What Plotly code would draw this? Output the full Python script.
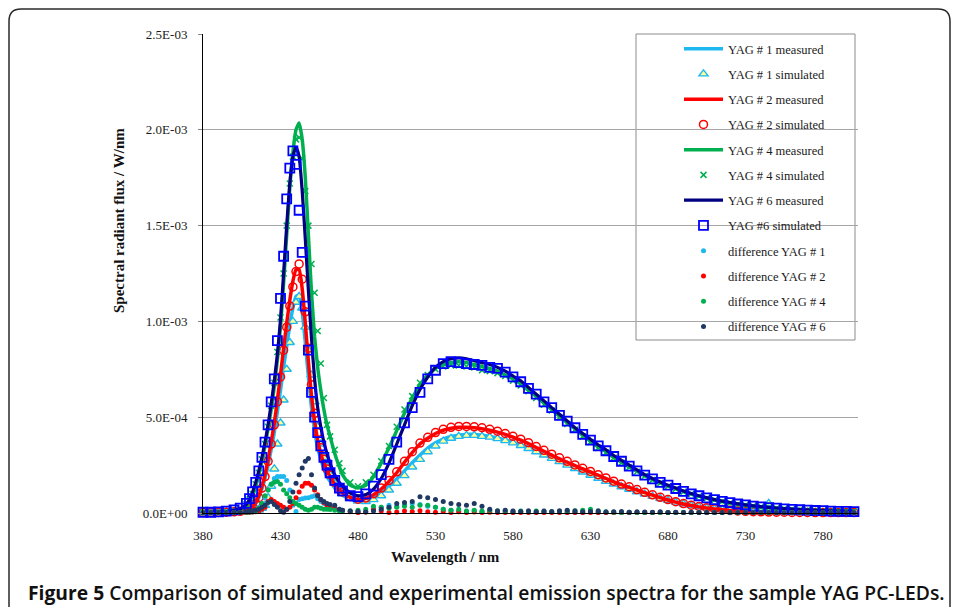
import plotly.graph_objects as go

# ---------------- data (values in 1E-03 W/nm) ----------------
wavelength = [380, 385, 390, 395, 400,
              404, 408,
              410, 412, 414, 416, 418, 420, 422, 424, 426, 428,
              430, 432, 434, 436, 438, 440, 442, 444, 446, 448,
              450, 452, 454, 456, 458, 460, 462,
              465, 468,
              470, 475, 480, 485, 490, 495, 500, 505, 510, 515,
              520, 525, 530, 535, 540, 545, 550, 555, 560, 565,
              570, 575, 580, 585, 590, 595, 600, 605, 610, 615,
              620, 625, 630, 635, 640, 645, 650, 655, 660, 665,
              670, 675, 680, 685, 690, 695, 700, 705, 710, 715,
              720, 725, 730, 735, 740, 745, 750, 755, 760, 765,
              770, 775, 780, 785, 790, 795, 800]

yag1_measured = [0.002, 0.002, 0.003, 0.004, 0.005,
                 0.008, 0.014,
                 0.02, 0.03, 0.048, 0.08, 0.125, 0.18, 0.25, 0.33, 0.42, 0.53,
                 0.64, 0.76, 0.87, 0.98, 1.07, 1.13, 1.135, 1.05, 0.89, 0.71,
                 0.55, 0.43, 0.34, 0.28, 0.23, 0.19, 0.165,
                 0.13, 0.105,
                 0.092, 0.073, 0.065, 0.068, 0.083, 0.108, 0.14, 0.178, 0.22, 0.262,
                 0.302, 0.338, 0.366, 0.386, 0.399, 0.406, 0.41, 0.41, 0.406, 0.4,
                 0.392, 0.381, 0.369, 0.355, 0.34, 0.323, 0.306, 0.288, 0.27, 0.252,
                 0.234, 0.216, 0.2, 0.184, 0.168, 0.153, 0.139, 0.126, 0.113, 0.1,
                 0.088, 0.077, 0.067, 0.058, 0.049, 0.041, 0.034, 0.028, 0.023, 0.019,
                 0.015, 0.012, 0.01, 0.008, 0.007, 0.006, 0.005, 0.004, 0.004, 0.003,
                 0.003, 0.003, 0.002, 0.002, 0.002, 0.002, 0.002]

yag1_simulated = [0.002, 0.002, 0.003, 0.003, 0.004,
                  0.005, 0.007,
                  0.008, 0.009, 0.01, 0.015, 0.025, 0.04, 0.08, 0.14, 0.23, 0.36,
                  0.47, 0.59, 0.75, 0.89, 1.0, 1.1, 1.13, 1.07, 0.97, 0.85,
                  0.72, 0.58, 0.45, 0.36, 0.29, 0.24, 0.2,
                  0.155, 0.12,
                  0.1, 0.075, 0.062, 0.06, 0.07, 0.09, 0.12, 0.155, 0.195, 0.24,
                  0.28, 0.32, 0.35, 0.375, 0.39, 0.4, 0.405, 0.405, 0.4, 0.396,
                  0.388, 0.378, 0.366, 0.352, 0.337, 0.32, 0.303, 0.285, 0.268, 0.25,
                  0.232, 0.214, 0.197, 0.181, 0.166, 0.151, 0.137, 0.124, 0.111, 0.099,
                  0.087, 0.076, 0.066, 0.057, 0.048, 0.04, 0.033, 0.027, 0.022, 0.018,
                  0.015, 0.012, 0.01, 0.008, 0.007, 0.05, 0.006, 0.005, 0.004, 0.004,
                  0.003, 0.003, 0.003, 0.002, 0.002, 0.002, 0.002]

yag2_measured = [0.002, 0.002, 0.003, 0.004, 0.006,
                 0.01, 0.018,
                 0.025, 0.035, 0.055, 0.09, 0.14, 0.2, 0.28, 0.37, 0.47, 0.59,
                 0.72, 0.86, 0.99, 1.11, 1.21, 1.27, 1.27, 1.17, 0.99, 0.79,
                 0.61, 0.48, 0.38, 0.31, 0.26, 0.22, 0.19,
                 0.15, 0.12,
                 0.105, 0.082, 0.072, 0.076, 0.095, 0.125, 0.165, 0.21, 0.265, 0.315,
                 0.36, 0.39, 0.415, 0.432, 0.442, 0.447, 0.448, 0.445, 0.44, 0.432,
                 0.422, 0.41, 0.396, 0.38, 0.362, 0.342, 0.322, 0.302, 0.283, 0.265,
                 0.247, 0.23, 0.214, 0.197, 0.18, 0.163, 0.148, 0.134, 0.12, 0.106,
                 0.093, 0.08, 0.068, 0.057, 0.047, 0.039, 0.032, 0.026, 0.021, 0.017,
                 0.013, 0.01, 0.008, 0.006, 0.005, 0.004, 0.004, 0.003, 0.003, 0.003,
                 0.002, 0.002, 0.002, 0.002, 0.002, 0.002, 0.002]

yag2_simulated = [0.002, 0.002, 0.003, 0.004, 0.006,
                  0.009, 0.016,
                  0.022, 0.032, 0.05, 0.08, 0.13, 0.19, 0.27, 0.36, 0.46, 0.58,
                  0.71, 0.85, 0.97, 1.08, 1.18, 1.26, 1.3, 1.22, 1.05, 0.86,
                  0.67, 0.52, 0.42, 0.34, 0.28, 0.23, 0.2,
                  0.16, 0.13,
                  0.11, 0.085, 0.072, 0.078, 0.1, 0.13, 0.17, 0.215, 0.27, 0.32,
                  0.365, 0.395, 0.42, 0.437, 0.447, 0.452, 0.452, 0.45, 0.445, 0.437,
                  0.427, 0.415, 0.4, 0.385, 0.367, 0.347, 0.327, 0.307, 0.288, 0.27,
                  0.251, 0.233, 0.217, 0.2, 0.183, 0.166, 0.151, 0.137, 0.122, 0.108,
                  0.095, 0.082, 0.07, 0.059, 0.049, 0.041, 0.034, 0.028, 0.022, 0.018,
                  0.014, 0.011, 0.009, 0.007, 0.006, 0.005, 0.004, 0.004, 0.003, 0.003,
                  0.003, 0.002, 0.002, 0.002, 0.002, 0.002, 0.002]

yag4_measured = [0.002, 0.003, 0.004, 0.007, 0.012,
                 0.02, 0.04,
                 0.06, 0.09, 0.14, 0.2, 0.27, 0.35, 0.44, 0.54, 0.66, 0.8,
                 0.97, 1.2, 1.45, 1.7, 1.88, 2.0, 2.035, 1.95, 1.75, 1.45,
                 1.15, 0.92, 0.76, 0.64, 0.54, 0.46, 0.4,
                 0.31, 0.24,
                 0.2, 0.145, 0.13, 0.145, 0.19, 0.26, 0.34, 0.43, 0.52, 0.6,
                 0.67, 0.72, 0.755, 0.775, 0.785, 0.79, 0.785, 0.775, 0.765, 0.755,
                 0.74, 0.72, 0.7, 0.675, 0.64, 0.61, 0.575, 0.54, 0.505, 0.47,
                 0.44, 0.405, 0.375, 0.345, 0.32, 0.29, 0.265, 0.24, 0.218, 0.195,
                 0.175, 0.158, 0.142, 0.127, 0.112, 0.1, 0.088, 0.078, 0.069, 0.06,
                 0.053, 0.047, 0.041, 0.036, 0.032, 0.028, 0.025, 0.022, 0.02, 0.017,
                 0.015, 0.013, 0.012, 0.011, 0.01, 0.009, 0.008]

yag4_simulated = [0.003, 0.004, 0.005, 0.008, 0.013,
                  0.022, 0.045,
                  0.07, 0.1, 0.15, 0.21, 0.28, 0.36, 0.45, 0.56, 0.68, 0.84,
                  1.02, 1.25, 1.5, 1.72, 1.86, 1.95, 1.96, 1.85, 1.68, 1.5,
                  1.3, 1.15, 0.95, 0.78, 0.6, 0.46, 0.4,
                  0.33, 0.26,
                  0.22, 0.16, 0.14, 0.16, 0.2, 0.27, 0.35, 0.45, 0.54, 0.61,
                  0.68, 0.72, 0.75, 0.765, 0.77, 0.77, 0.765, 0.76, 0.745, 0.74,
                  0.73, 0.715, 0.69, 0.665, 0.635, 0.6, 0.565, 0.535, 0.5, 0.465,
                  0.435, 0.4, 0.37, 0.34, 0.315, 0.288, 0.262, 0.238, 0.215, 0.193,
                  0.173, 0.156, 0.14, 0.125, 0.111, 0.099, 0.087, 0.077, 0.068, 0.06,
                  0.052, 0.046, 0.041, 0.036, 0.032, 0.028, 0.025, 0.022, 0.019, 0.017,
                  0.015, 0.013, 0.012, 0.011, 0.01, 0.009, 0.008]

yag6_measured = [0.003, 0.004, 0.005, 0.008, 0.014,
                 0.022, 0.045,
                 0.07, 0.11, 0.16, 0.22, 0.29, 0.37, 0.46, 0.57, 0.69, 0.83,
                 1.01, 1.25, 1.5, 1.72, 1.86, 1.91, 1.86, 1.68, 1.43, 1.16,
                 0.91, 0.7, 0.55, 0.45, 0.37, 0.31, 0.26,
                 0.2, 0.16,
                 0.14, 0.105, 0.09, 0.095, 0.125, 0.18, 0.26, 0.36, 0.46, 0.56,
                 0.645, 0.71, 0.76, 0.79, 0.805, 0.81, 0.805, 0.795, 0.785, 0.775,
                 0.76, 0.74, 0.715, 0.69, 0.655, 0.62, 0.585, 0.55, 0.515, 0.48,
                 0.445, 0.415, 0.385, 0.355, 0.33, 0.3, 0.275, 0.25, 0.225, 0.2,
                 0.18, 0.162, 0.145, 0.13, 0.115, 0.102, 0.09, 0.08, 0.07, 0.062,
                 0.055, 0.048, 0.042, 0.037, 0.033, 0.029, 0.026, 0.023, 0.02, 0.018,
                 0.016, 0.014, 0.012, 0.011, 0.01, 0.009, 0.008]

yag6_simulated = [0.004, 0.004, 0.006, 0.01, 0.016,
                  0.025, 0.05,
                  0.075, 0.11, 0.16, 0.22, 0.29, 0.37, 0.46, 0.58, 0.7, 0.9,
                  1.12, 1.34, 1.64, 1.8, 1.89, 1.82, 1.58, 1.36, 1.08, 0.85,
                  0.63, 0.5, 0.42, 0.35, 0.29, 0.25, 0.21,
                  0.17, 0.13,
                  0.115, 0.09, 0.085, 0.1, 0.14, 0.2, 0.28, 0.37, 0.47, 0.55,
                  0.63, 0.7, 0.745, 0.78, 0.79, 0.785, 0.78, 0.775, 0.77, 0.76,
                  0.755, 0.735, 0.71, 0.685, 0.65, 0.62, 0.58, 0.55, 0.51, 0.48,
                  0.445, 0.41, 0.38, 0.35, 0.325, 0.295, 0.27, 0.245, 0.22, 0.198,
                  0.178, 0.16, 0.145, 0.128, 0.113, 0.1, 0.09, 0.079, 0.07, 0.061,
                  0.054, 0.047, 0.042, 0.036, 0.032, 0.028, 0.025, 0.022, 0.019, 0.017,
                  0.015, 0.013, 0.012, 0.01, 0.009, 0.008, 0.007]

difference_yag1 = [0.001, 0.001, 0.001, 0.002, 0.002,
                   0.003, 0.004,
                   0.005, 0.006, 0.01, 0.03, 0.05, 0.08, 0.12, 0.15, 0.18, 0.19,
                   0.19, 0.19, 0.17, 0.12, 0.04, 0.008, 0.07, 0.075, 0.078, 0.08,
                   0.085, 0.09, 0.075, 0.06, 0.05, 0.04, 0.035,
                   0.03, 0.02,
                   0.015, 0.008, 0.004, 0.01, 0.02, 0.03, 0.04, 0.035, 0.04, 0.05,
                   0.045, 0.035, 0.03, 0.02, 0.015, 0.01, 0.008, 0.01, 0.006, 0.008,
                   0.005, 0.006, 0.004, 0.006, 0.005, 0.004, 0.006, 0.004, 0.005, 0.003,
                   0.004, 0.003, 0.005, 0.003, 0.004, 0.003, 0.002, 0.003, 0.002, 0.003,
                   0.002, 0.002, 0.003, 0.002, 0.002, 0.002, 0.002, 0.002, 0.002, 0.002,
                   0.002, 0.002, 0.002, 0.002, 0.002, 0.002, 0.002, 0.002, 0.002, 0.002,
                   0.001, 0.001, 0.001, 0.001, 0.001, 0.001, 0.001]

difference_yag2 = [0.001, 0.001, 0.001, 0.001, 0.002,
                   0.002, 0.003,
                   0.004, 0.005, 0.006, 0.01, 0.02, 0.03, 0.06, 0.07, 0.06, 0.05,
                   0.04, 0.03, 0.02, 0.03, 0.05, 0.08, 0.11, 0.14, 0.155, 0.155,
                   0.145, 0.12, 0.095, 0.07, 0.055, 0.04, 0.03,
                   0.025, 0.015,
                   0.012, 0.006, 0.003, 0.005, 0.02, 0.01, 0.002, 0.005, 0.01, 0.008,
                   0.012, 0.006, 0.004, 0.008, 0.003, 0.006, 0.003, 0.005, 0.002, 0.004,
                   0.002, 0.003, 0.002, 0.003, 0.002, 0.003, 0.002, 0.002, 0.003, 0.002,
                   0.002, 0.002, 0.003, 0.002, 0.002, 0.002, 0.002, 0.002, 0.002, 0.002,
                   0.002, 0.002, 0.002, 0.002, 0.002, 0.002, 0.002, 0.002, 0.002, 0.002,
                   0.001, 0.001, 0.001, 0.001, 0.001, 0.001, 0.001, 0.001, 0.001, 0.001,
                   0.001, 0.001, 0.001, 0.001, 0.001, 0.001, 0.001]

difference_yag4 = [0.001, 0.001, 0.002, 0.002, 0.002,
                   0.003, 0.004,
                   0.005, 0.006, 0.01, 0.025, 0.05, 0.09, 0.12, 0.15, 0.16, 0.165,
                   0.15, 0.12, 0.1, 0.08, 0.06, 0.05, 0.04, 0.03, 0.02, 0.015,
                   0.02, 0.03, 0.03, 0.025, 0.02, 0.02, 0.018,
                   0.015, 0.01,
                   0.012, 0.01, 0.015, 0.02, 0.035, 0.03, 0.025, 0.03, 0.035, 0.03,
                   0.04, 0.04, 0.03, 0.02, 0.015, 0.02, 0.01, 0.015, 0.01, 0.015,
                   0.012, 0.01, 0.008, 0.01, 0.006, 0.01, 0.008, 0.006, 0.008, 0.01,
                   0.012, 0.015, 0.02, 0.01, 0.006, 0.004, 0.003, 0.004, 0.003, 0.002,
                   0.003, 0.002, 0.002, 0.002, 0.002, 0.002, 0.002, 0.002, 0.002, 0.002,
                   0.002, 0.002, 0.002, 0.002, 0.002, 0.001, 0.001, 0.001, 0.001, 0.001,
                   0.001, 0.001, 0.001, 0.001, 0.001, 0.001, 0.001]

difference_yag6 = [0.001, 0.001, 0.002, 0.002, 0.002,
                   0.003, 0.006,
                   0.01, 0.012, 0.015, 0.02, 0.03, 0.04, 0.055, 0.06, 0.045, 0.03,
                   0.012, 0.004, 0.02, 0.06, 0.11, 0.155, 0.2, 0.235, 0.27, 0.285,
                   0.2, 0.13, 0.09, 0.07, 0.06, 0.05, 0.045,
                   0.04, 0.02,
                   0.015, 0.01, 0.008, 0.005, 0.01, 0.02, 0.03, 0.05, 0.055, 0.06,
                   0.085, 0.08, 0.07, 0.06, 0.05, 0.045, 0.04, 0.05, 0.035, 0.02,
                   0.01, 0.015, 0.01, 0.008, 0.012, 0.006, 0.01, 0.008, 0.012, 0.015,
                   0.01, 0.006, 0.008, 0.01, 0.005, 0.006, 0.008, 0.004, 0.006, 0.005,
                   0.004, 0.006, 0.003, 0.004, 0.003, 0.004, 0.003, 0.003, 0.002, 0.003,
                   0.002, 0.002, 0.002, 0.002, 0.002, 0.002, 0.001, 0.001, 0.001, 0.001,
                   0.001, 0.001, 0.001, 0.001, 0.001, 0.001, 0.001]

x_tick_values = [380, 430, 480, 530, 580, 630, 680, 730, 780]
y_tick_values = [0.0, 0.0005, 0.001, 0.0015, 0.002, 0.0025]
y_tick_labels = ["0.0E+00", "5.0E-04", "1.0E-03", "1.5E-03", "2.0E-03", "2.5E-03"]

UNIT = 1e-3  # arrays above are in 1E-03 W/nm

series_lists = [yag1_measured, yag1_simulated, yag2_measured, yag2_simulated,
                yag4_measured, yag4_simulated, yag6_measured, yag6_simulated,
                difference_yag1, difference_yag2, difference_yag4, difference_yag6]
for s in series_lists:
    assert len(s) == len(wavelength), len(s)


def scaled(vals):
    return [v * UNIT for v in vals]


# ---------------- layout geometry ----------------
L, R, T, B = 203, 100, 34, 94
W, H = 958, 607
PW, PH = W - L - R, H - T - B


def px(xp):
    return (xp - L) / PW


def py(yp):
    return (H - B - yp) / PH


SERIF = "Liberation Serif"
fig = go.Figure()

C_CYAN = "#1EB8F0"
C_RED = "#FF0000"
C_GREEN = "#00B050"
C_NAVY = "#000080"
C_BLUE = "#0000FF"
C_DARK = "#1F3864"


def add_line(name, vals, color, width, group):
    fig.add_trace(go.Scatter(x=wavelength, y=scaled(vals), mode="lines", name=name,
                             line=dict(color=color, width=width, shape="spline", smoothing=0.5),
                             legendgroup=group, cliponaxis=False))


def add_markers(name, vals, group, **marker):
    fig.add_trace(go.Scatter(x=wavelength, y=scaled(vals), mode="markers", name=name,
                             marker=marker, legendgroup=group, cliponaxis=False))


add_line("YAG # 1 measured", yag1_measured, C_CYAN, 3.5, "g1")
add_markers("YAG # 1 simulated", yag1_simulated, "g2", symbol="triangle-up", size=8,
            color="#FFFF99", line=dict(color=C_CYAN, width=1.4))
add_line("YAG # 2 measured", yag2_measured, C_RED, 3.5, "g3")
add_markers("YAG # 2 simulated", yag2_simulated, "g4", symbol="circle-open", size=8,
            color=C_RED, line=dict(color=C_RED, width=1.5))
add_line("YAG # 4 measured", yag4_measured, C_GREEN, 3.5, "g5")
add_markers("YAG # 4 simulated", yag4_simulated, "g6", symbol="x-thin-open", size=6,
            color=C_GREEN, line=dict(color=C_GREEN, width=1.5))
add_line("YAG # 6 measured", yag6_measured, C_NAVY, 3.2, "g7")
add_markers("YAG #6 simulated", yag6_simulated, "g8", symbol="square-open", size=9,
            color=C_BLUE, line=dict(color=C_BLUE, width=1.8))
add_markers("difference YAG # 1", difference_yag1, "g9", symbol="circle", size=5, color=C_CYAN)
add_markers("difference YAG # 2", difference_yag2, "g10", symbol="circle", size=5, color=C_RED)
add_markers("difference YAG # 4", difference_yag4, "g11", symbol="circle", size=5, color=C_GREEN)
add_markers("difference YAG # 6", difference_yag6, "g12", symbol="circle", size=5, color=C_DARK)

# legend box (covers gridlines like the original)
fig.add_shape(type="rect", xref="paper", yref="paper",
              x0=px(636), x1=px(855), y0=py(340), y1=py(34),
              line=dict(color="#8C8C8C", width=1), fillcolor="white", layer="between")

# outer rounded frame
fx0, fx1, fy1, fyb = px(9), px(950), py(9), py(640)
rx, ry = 12 / PW, 12 / PH
frame_path = (f"M {fx0},{fyb} L {fx0},{fy1 - ry} Q {fx0},{fy1} {fx0 + rx},{fy1} "
              f"L {fx1 - rx},{fy1} Q {fx1},{fy1} {fx1},{fy1 - ry} L {fx1},{fyb}")
fig.add_shape(type="path", xref="paper", yref="paper", path=frame_path,
              line=dict(color="#2a2a2a", width=1.5), layer="above")

fig.update_layout(
    width=W, height=H,
    margin=dict(l=L, r=R, t=T, b=B),
    paper_bgcolor="white", plot_bgcolor="white",
    showlegend=True,
    legend=dict(x=px(679), xanchor="left", y=1.0, yanchor="top",
                bgcolor="rgba(0,0,0,0)", borderwidth=0,
                font=dict(family=SERIF, size=12.5, color="#1a1a1a"),
                tracegroupgap=6, itemwidth=39),
    xaxis=dict(range=[380, 802.6], tickvals=x_tick_values, ticks="",
               ticklabelstandoff=10,
               showgrid=False, zeroline=False, showline=True, linecolor="black", linewidth=1,
               tickfont=dict(family=SERIF, size=13, color="#1a1a1a")),
    yaxis=dict(range=[0, 0.0025], tickvals=y_tick_values, ticktext=y_tick_labels,
               ticks="outside", ticklen=4, tickcolor="#8C8C8C", ticklabelstandoff=8,
               showgrid=True, gridcolor="#A6A6A6", gridwidth=1, zeroline=False,
               showline=True, linecolor="black", linewidth=1,
               tickfont=dict(family=SERIF, size=13, color="#1a1a1a")),
    annotations=[
        dict(text="<b>Wavelength / nm</b>", xref="paper", yref="paper",
             x=px(445), y=py(557), xanchor="center", yanchor="middle", showarrow=False,
             font=dict(family=SERIF, size=15, color="#111")),
        dict(text="<b>Spectral radiant flux / W/nm</b>", xref="paper", yref="paper",
             x=px(119), y=py(221), xanchor="center", yanchor="middle", showarrow=False,
             textangle=-90,
             font=dict(family=SERIF, size=15, color="#111")),
        dict(text="<b>Figure 5</b> Comparison of simulated and experimental emission spectra for the sample YAG PC-LEDs.",
             xref="paper", yref="paper", x=px(486), y=py(592), xanchor="center", yanchor="middle",
             showarrow=False,
             font=dict(family="Open Sans", size=19.3, color="#111", weight=600)),
    ],
)

fig.write_html("out.html")
